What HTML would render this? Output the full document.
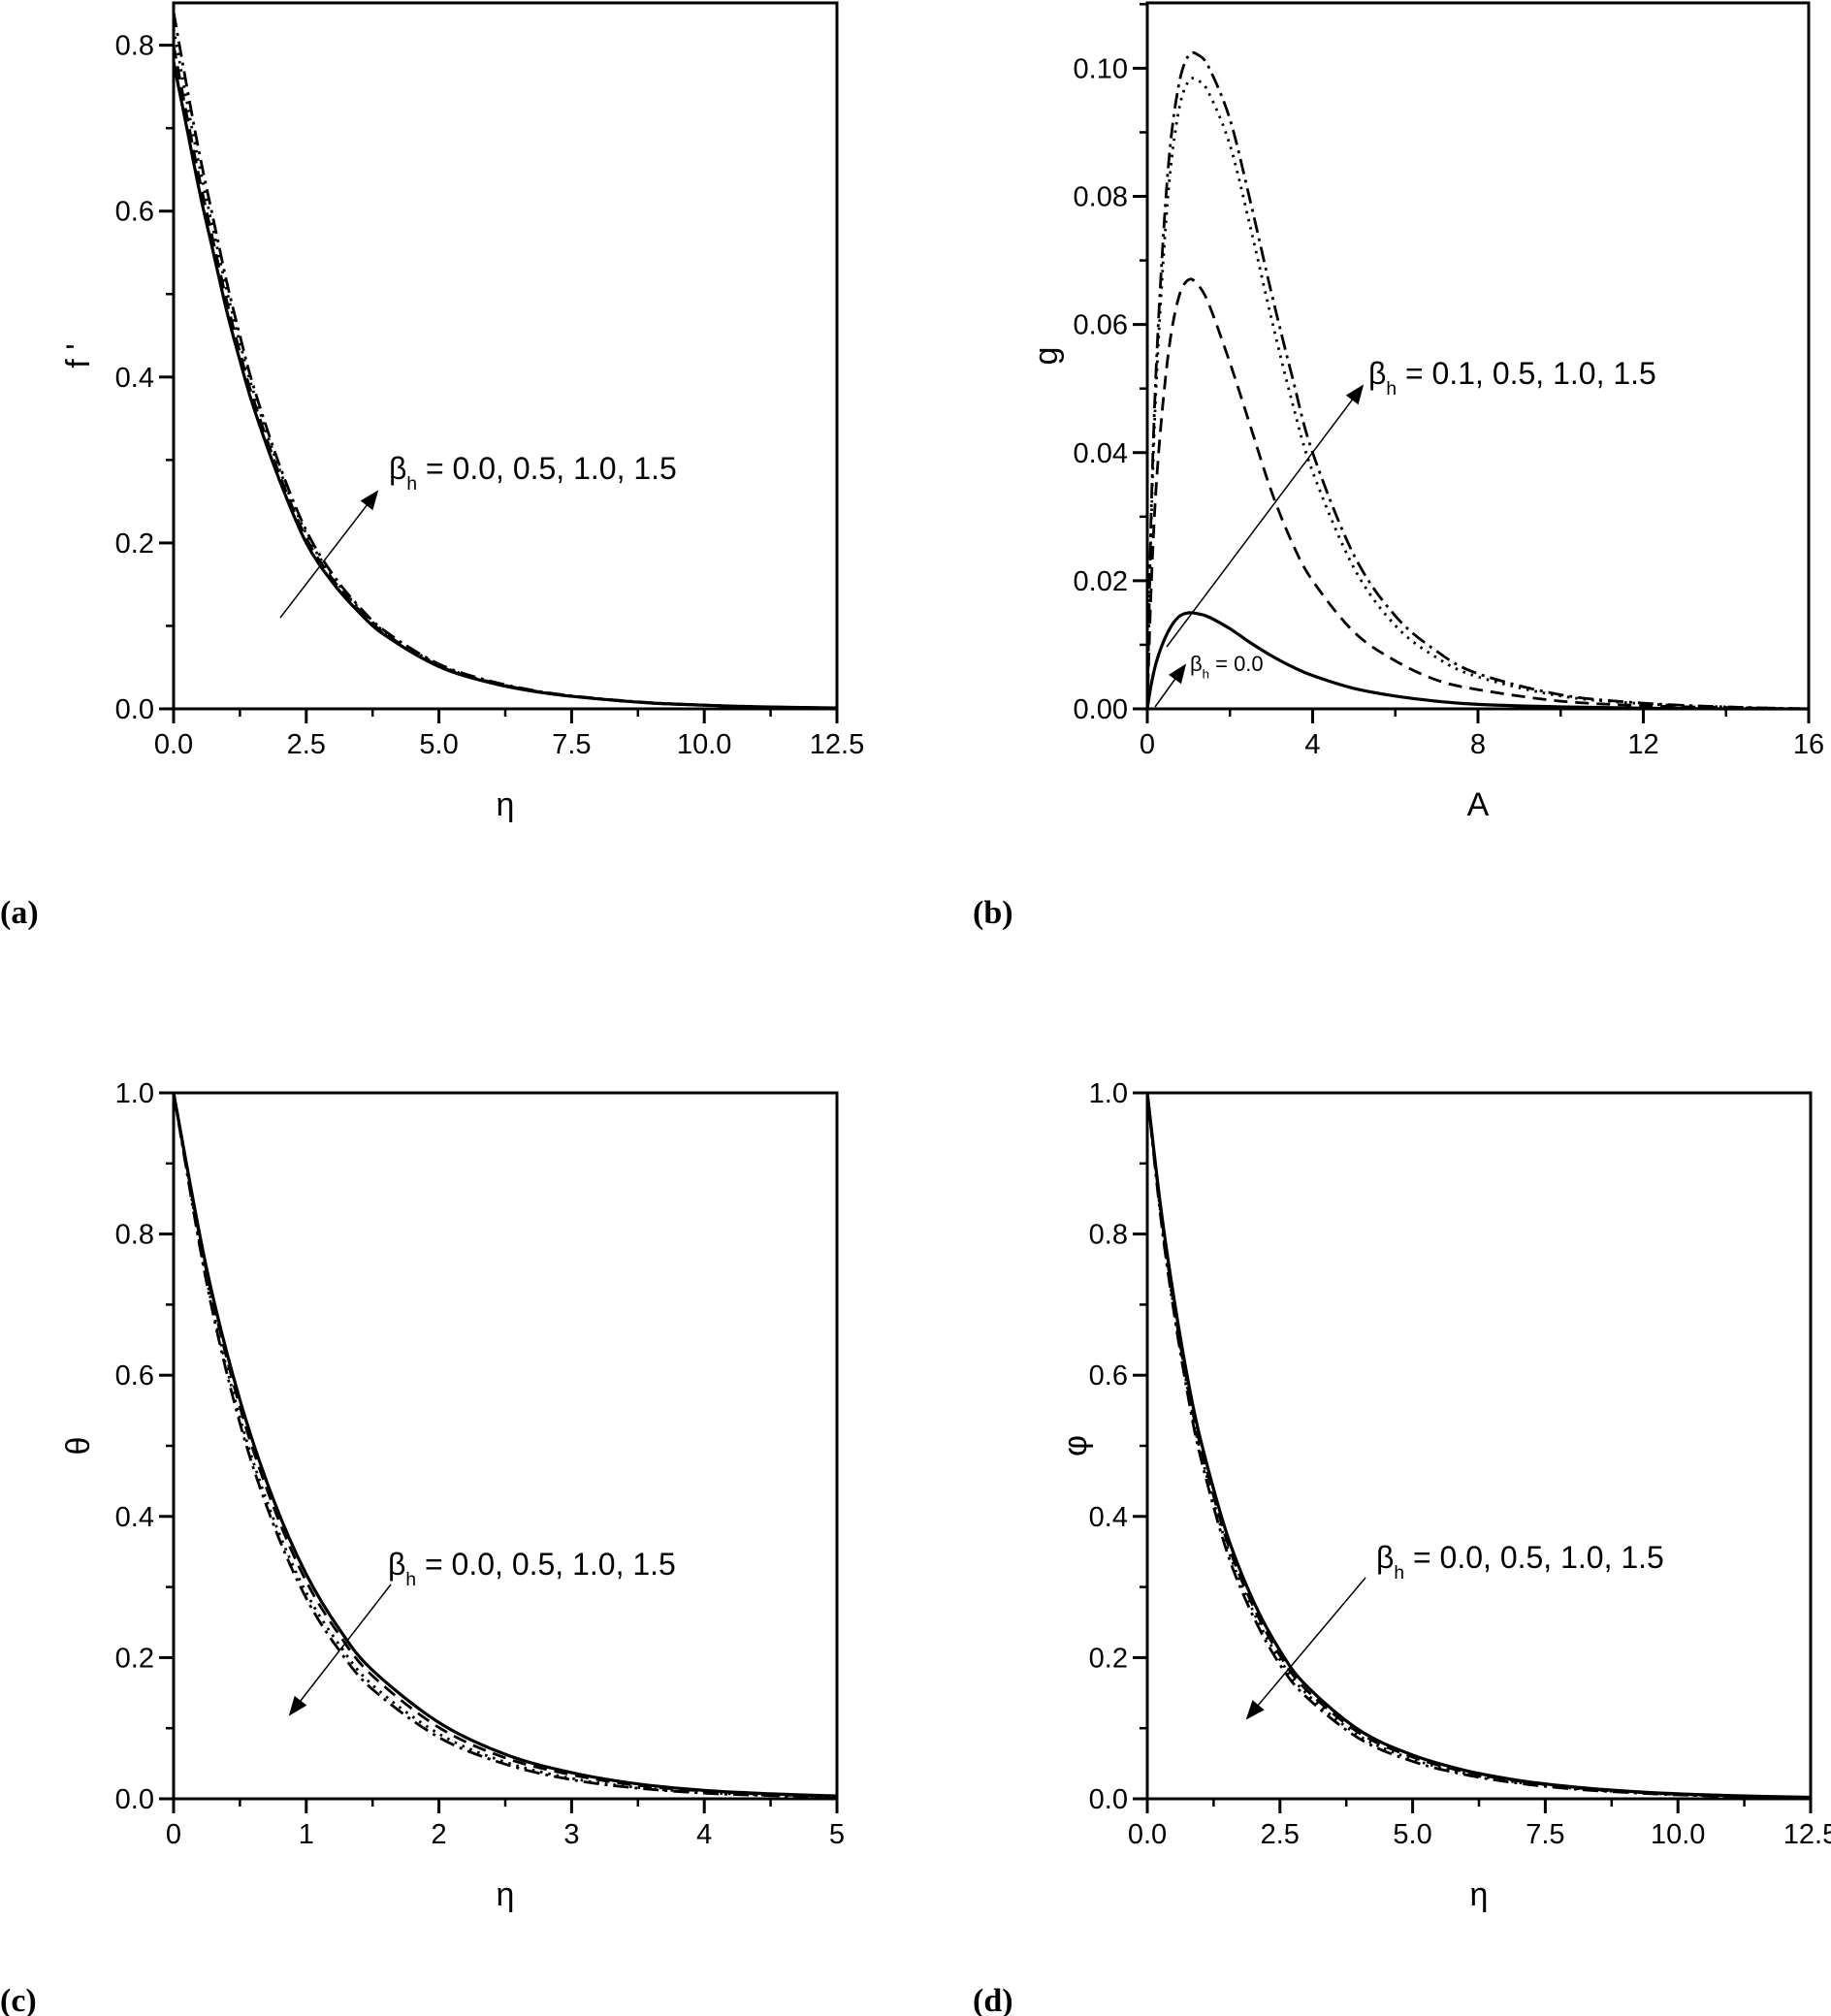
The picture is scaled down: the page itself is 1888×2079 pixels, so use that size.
<!DOCTYPE html>
<html><head><meta charset="utf-8"><title>Effect of beta_h on profiles</title>
<style>
html,body{margin:0;padding:0;background:#fff;}
svg{display:block;}
text{font-family:"Liberation Sans Narrow","Liberation Sans",sans-serif;fill:#000;}
.pl{font-family:"Liberation Serif",serif;font-weight:bold;font-size:34px;}
</style></head>
<body>
<svg id="fig" width="1888" height="2079" viewBox="0 0 1888 2079" xmlns="http://www.w3.org/2000/svg">
<defs>
<marker id="ahs" viewBox="0 0 10 10" refX="9" refY="5" markerWidth="26" markerHeight="20" orient="auto" markerUnits="userSpaceOnUse">
<path d="M0,1 L10,5 L0,9 z" fill="#000"/></marker>
</defs>
<g id="root"></g>
<text class="pl" x="0" y="952">(a)</text>
<text class="pl" x="1003" y="952">(b)</text>
<text class="pl" x="0" y="2074">(c)</text>
<text class="pl" x="1003" y="2074">(d)</text>
</svg>
<script>
// ---- Panel (a): f' vs eta ----
const aX = [0,0.25,0.5,0.75,1,1.25,1.5,2,2.5,3,3.5,4,5,6,7,8,9,10,11,12.5];
const aSolid   = [0.78,0.70,0.62,0.55,0.48,0.42,0.365,0.275,0.20,0.152,0.116,0.088,0.051,0.031,0.019,0.012,0.007,0.0045,0.0025,0.001];
const aDash    = [0.80,0.715,0.635,0.563,0.492,0.43,0.374,0.282,0.206,0.156,0.119,0.09,0.052,0.032,0.0195,0.012,0.007,0.0045,0.0025,0.001];
const aDot     = [0.82,0.732,0.65,0.577,0.505,0.441,0.383,0.288,0.211,0.159,0.121,0.092,0.053,0.032,0.0195,0.012,0.007,0.0045,0.0025,0.001];
const aDashDot = [0.84,0.75,0.665,0.59,0.515,0.45,0.39,0.293,0.215,0.162,0.123,0.093,0.054,0.033,0.02,0.0125,0.0075,0.0045,0.0025,0.001];
const aXTicks = ["0.0","2.5","5.0","7.5","10.0","12.5"];
const aYTicks = ["0.0","0.2","0.4","0.6","0.8"];

// ---- Panel (b): g vs A ----
const bX = [0,0.1,0.25,0.5,0.75,1,1.25,1.5,2,2.5,3,3.5,4,5,6,7,8,10,12,14,16];
const bSolid   = [0,0.004,0.008,0.012,0.0143,0.015,0.0148,0.0143,0.0125,0.0103,0.0083,0.0066,0.0052,0.0032,0.002,0.0012,0.0007,0.0003,0.0001,0,0];
const bDash    = [0,0.02,0.038,0.055,0.064,0.067,0.066,0.063,0.054,0.044,0.034,0.026,0.02,0.012,0.0075,0.0045,0.003,0.0012,0.0005,0.0002,0];
const bDot     = [0,0.03,0.055,0.08,0.093,0.098,0.098,0.096,0.088,0.075,0.061,0.048,0.037,0.022,0.013,0.008,0.005,0.002,0.0008,0.0003,0];
const bDashDot = [0,0.032,0.058,0.084,0.097,0.102,0.102,0.1,0.092,0.079,0.065,0.052,0.04,0.024,0.0145,0.009,0.0055,0.0022,0.0009,0.0003,0];
const bXTicks = ["0","4","8","12","16"];
const bYTicks = ["0.00","0.02","0.04","0.06","0.08","0.10"];

// ---- Panel (c): theta vs eta ----
const cX = [0,0.25,0.5,0.75,1,1.25,1.5,2,2.5,3,3.5,4,4.5,5];
const cSolid   = [1,0.75,0.565,0.425,0.318,0.24,0.182,0.108,0.063,0.037,0.021,0.012,0.007,0.004];
const cDash    = [1,0.745,0.555,0.415,0.308,0.232,0.174,0.101,0.058,0.034,0.019,0.011,0.006,0.0035];
const cDot     = [1,0.735,0.54,0.398,0.292,0.218,0.161,0.092,0.052,0.029,0.016,0.009,0.005,0.003];
const cDashDot = [1,0.73,0.532,0.39,0.284,0.21,0.155,0.087,0.049,0.027,0.015,0.008,0.0045,0.0025];
const cXTicks = ["0","1","2","3","4","5"];
const cYTicks = ["0.0","0.2","0.4","0.6","0.8","1.0"];

// ---- Panel (d): phi vs eta ----
const dX = [0,0.25,0.5,0.75,1,1.5,2,2.5,3,4,5,6,7,8,9,10,11,12.5];
const dSolid   = [1,0.84,0.71,0.60,0.51,0.375,0.28,0.21,0.16,0.097,0.062,0.04,0.026,0.017,0.011,0.007,0.0045,0.002];
const dDash    = [1,0.835,0.70,0.59,0.50,0.365,0.272,0.203,0.154,0.093,0.059,0.038,0.025,0.016,0.010,0.0065,0.004,0.002];
const dDot     = [1,0.83,0.695,0.585,0.492,0.358,0.265,0.197,0.149,0.089,0.056,0.036,0.023,0.015,0.0095,0.006,0.004,0.0018];
const dDashDot = [1,0.825,0.69,0.578,0.485,0.35,0.258,0.19,0.144,0.085,0.053,0.034,0.022,0.014,0.009,0.0055,0.0035,0.0015];
const dXTicks = ["0.0","2.5","5.0","7.5","10.0","12.5"];
const dYTicks = ["0.0","0.2","0.4","0.6","0.8","1.0"];

const NS = "http://www.w3.org/2000/svg";
const root = document.getElementById("root");
function mk(tag, attrs, parent){
  const e = document.createElementNS(NS, tag);
  for (const k in attrs) e.setAttribute(k, attrs[k]);
  (parent||root).appendChild(e);
  return e;
}
function smoothPath(pts){
  let d = "M" + pts[0][0].toFixed(1) + "," + pts[0][1].toFixed(1);
  for (let i = 0; i < pts.length - 1; i++) {
    const p0 = pts[Math.max(i-1,0)], p1 = pts[i], p2 = pts[i+1], p3 = pts[Math.min(i+2, pts.length-1)];
    const c1x = p1[0] + (p2[0]-p0[0])/6, c1y = p1[1] + (p2[1]-p0[1])/6;
    const c2x = p2[0] - (p3[0]-p1[0])/6, c2y = p2[1] - (p3[1]-p1[1])/6;
    d += " C" + c1x.toFixed(1) + "," + c1y.toFixed(1) + " " + c2x.toFixed(1) + "," + c2y.toFixed(1) + " " + p2[0].toFixed(1) + "," + p2[1].toFixed(1);
  }
  return d;
}
const styles = [
  {name:"solid", dash:"", w:3.2},
  {name:"dashed", dash:"14,8", w:2.8},
  {name:"dotted", dash:"2.5,6", w:2.8},
  {name:"dash-dot", dash:"16,6,3,6", w:2.8}
];

function panel(cfg){
  const g = mk("g", {});
  
  
  const L=cfg.L, R=cfg.R, T=cfg.T, B=cfg.B;
  const sx = v => L + (v - cfg.xmin) / (cfg.xmax - cfg.xmin) * (R - L);
  const sy = v => B - (v - cfg.ymin) / (cfg.ymax - cfg.ymin) * (B - T);
  cfg.series.forEach((s, i) => {
    const pts = cfg.x.map((xv, j) => [sx(xv), sy(s[j])]);
    const p = mk("path", {d:smoothPath(pts), fill:"none", stroke:"#000", "stroke-width":styles[i].w, "stroke-linejoin":"round"}, g);
    if (styles[i].dash) p.setAttribute("stroke-dasharray", styles[i].dash);
    
    
  });
  const fr = mk("rect", {x:L, y:T, width:R-L, height:B-T, fill:"none", stroke:"#000", "stroke-width":3}, g);
  
  
  const xstep = (cfg.xmax - cfg.xmin) / (cfg.xTicks.length - 1);
  cfg.xTicks.forEach((lab, i) => {
    const v = cfg.xmin + i * xstep, X = sx(v);
    mk("line", {x1:X, y1:B, x2:X, y2:B+15, stroke:"#000", "stroke-width":3}, g);
    if (i < cfg.xTicks.length - 1) {
      const Xm = sx(v + xstep/2);
      mk("line", {x1:Xm, y1:B, x2:Xm, y2:B+8, stroke:"#000", "stroke-width":2.5}, g);
    }
    const t = mk("text", {x:X, y:B+46, "font-size":29, "text-anchor":"middle"}, g);
    t.textContent = lab;
    
    
  });
  const ystep = cfg.yTickStep;
  cfg.yTicks.forEach((lab, i) => {
    const v = cfg.ymin + i * ystep, Y = sy(v);
    mk("line", {x1:L-15, y1:Y, x2:L, y2:Y, stroke:"#000", "stroke-width":3}, g);
    const Ym = sy(v + ystep/2);
    if (Ym > T) mk("line", {x1:L-8, y1:Ym, x2:L, y2:Ym, stroke:"#000", "stroke-width":2.5}, g);
    const t = mk("text", {x:L-20, y:Y+10, "font-size":29, "text-anchor":"end"}, g);
    t.textContent = lab;
    
    
  });
  const xt = mk("text", {x:(L+R)/2, y:B+110, "font-size":34, "text-anchor":"middle"}, g);
  xt.textContent = cfg.xTitle;
  
  
  const yx = cfg.yTitleX, yy = (T+B)/2;
  const yt = mk("text", {x:yx, y:yy, "font-size":34, "text-anchor":"middle", transform:"rotate(-90 "+yx+" "+yy+")"}, g);
  yt.textContent = cfg.yTitle;
  
  
  cfg.arrows.forEach(a => {
    const ln = mk("line", {x1:a[0], y1:a[1], x2:a[2], y2:a[3], stroke:"#000", "stroke-width":1.5, "marker-end":"url(#ahs)"}, g);
    
    
  });
  cfg.notes.forEach(n => {
    const t = mk("text", {x:n.x, y:n.y, "font-size":n.fs}, g);
    const b = mk("tspan", {}, t); b.textContent = "β";
    const s = mk("tspan", {dy:n.fs*0.35, "font-size":n.fs*0.6}, t); s.textContent = "h";
    const r = mk("tspan", {dy:-n.fs*0.35}, t); r.textContent = " = " + n.text;
    
    
  });
}

panel({id:"a", L:179, R:863, T:3, B:731, xmin:0, xmax:12.5, ymin:0, ymax:0.851,
  x:aX, series:[aSolid,aDash,aDot,aDashDot], xTicks:aXTicks, yTicks:aYTicks, yTickStep:0.2,
  xTitle:"η", yTitle:"f '", yTitleX:92,
  arrows:[[289,637,389,507]], notes:[{x:401,y:494,fs:32,text:"0.0, 0.5, 1.0, 1.5"}]});
panel({id:"b", L:1183, R:1865, T:3, B:731, xmin:0, xmax:16, ymin:0, ymax:0.1102,
  x:bX, series:[bSolid,bDash,bDot,bDashDot], xTicks:bXTicks, yTicks:bYTicks, yTickStep:0.02,
  xTitle:"A", yTitle:"g", yTitleX:1090,
  arrows:[[1203,667,1405,398],[1191,729,1222,686]],
  notes:[{x:1411,y:396,fs:32,text:"0.1, 0.5, 1.0, 1.5"},{x:1227,y:692,fs:22,text:"0.0"}]});
panel({id:"c", L:179, R:863, T:1127, B:1855, xmin:0, xmax:5, ymin:0, ymax:1,
  x:cX, series:[cSolid,cDash,cDot,cDashDot], xTicks:cXTicks, yTicks:cYTicks, yTickStep:0.2,
  xTitle:"η", yTitle:"θ", yTitleX:92,
  arrows:[[403,1634,299,1768]], notes:[{x:400,y:1624,fs:32,text:"0.0, 0.5, 1.0, 1.5"}]});
panel({id:"d", L:1183, R:1867, T:1127, B:1855, xmin:0, xmax:12.5, ymin:0, ymax:1,
  x:dX, series:[dSolid,dDash,dDot,dDashDot], xTicks:dXTicks, yTicks:dYTicks, yTickStep:0.2,
  xTitle:"η", yTitle:"φ", yTitleX:1120,
  arrows:[[1408,1627,1286,1772]], notes:[{x:1419,y:1617,fs:32,text:"0.0, 0.5, 1.0, 1.5"}]});
</script>
</body></html>
